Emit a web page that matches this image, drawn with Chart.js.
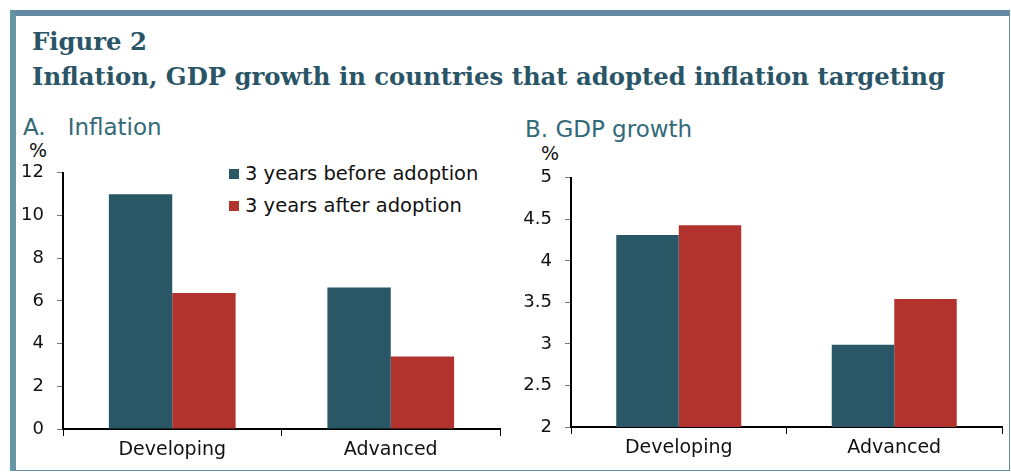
<!DOCTYPE html>
<html>
<head>
<meta charset="utf-8">
<script src="https://cdn.jsdelivr.net/npm/chart.js@4.4.0/dist/chart.umd.min.js"></script>
<style>
  html, body { margin: 0; padding: 0; background: #fff; }
  body { width: 1011px; height: 472px; position: relative; overflow: hidden; font-family: "DejaVu Sans", Verdana, sans-serif; }
  #frame { position: absolute; left: 10px; top: 10px; width: 1000px; height: 461px; box-sizing: border-box;
    border-top: 6px solid #648ba1; border-left: 6px solid #6797a7; border-right: 1px solid #648ba1; border-bottom: 1px solid #648ba1; }
  .title { position: absolute; left: 32px; font-family: "DejaVu Serif", serif; font-weight: bold; color: #2a5566;
    font-size: 25px; line-height: 25px; white-space: nowrap; transform-origin: 0 0; }
  .sub { position: absolute; font-size: 23px; line-height: 23px; color: #336a7a; white-space: nowrap; }
  .unit { position: absolute; font-size: 19px; line-height: 19px; color: #111; }
  canvas { position: absolute; }
  #legend { position: absolute; left: 229px; top: 162px; font-size: 19.5px; color: #111; }
  #legend div { height: 32px; line-height: 24px; white-space: nowrap; }
  #legend span.box { display: inline-block; width: 10px; height: 10px; margin-right: 6px; vertical-align: 1px; }
</style>
</head>
<body>
<div id="frame"></div>
<div class="title" id="t1" style="top:29px">Figure 2</div>
<div class="title" id="t2" style="top:64px">Inflation, GDP growth in countries that adopted inflation targeting</div>
<div class="sub" style="left:23px; top:116px">A.<span style="margin-left:22px">Inflation</span></div>
<div class="sub" style="left:525px; top:118px">B. GDP growth</div>
<div class="unit" style="left:29px; top:141px">%</div>
<div class="unit" style="left:541px; top:144px">%</div>
<div id="legend"></div>
<canvas id="chartA" width="485" height="319" style="left:20px; top:149px"></canvas>
<canvas id="chartB" width="497" height="312" style="left:510px; top:154px"></canvas>

<script>
const categories = ['Developing', 'Advanced'];
const seriesNames = ['3 years before adoption', '3 years after adoption'];
const seriesColors = ['#295766', '#b2332e'];

const inflationBefore = [11.0, 6.63];
const inflationAfter = [6.37, 3.39];
const gdpBefore = [4.31, 2.99];
const gdpAfter = [4.43, 3.54];

const inflationTicks = [0, 2, 4, 6, 8, 10, 12];
const gdpTicks = [2, 2.5, 3, 3.5, 4, 4.5, 5];

// fit the long title to the width it has in the figure
const t2 = document.getElementById('t2');
const k = 913 / t2.getBoundingClientRect().width;
t2.style.transform = 'scaleX(' + k + ')';
document.getElementById('t1').style.transform = 'scaleX(' + k + ')';

// legend
const legend = document.getElementById('legend');
seriesNames.forEach((name, i) => {
  const row = document.createElement('div');
  row.innerHTML = '<span class="box" style="background:' + seriesColors[i] + '"></span>' + name;
  legend.appendChild(row);
});

function makeChart(id, before, after, ticks, axisWidth) {
  return new Chart(document.getElementById(id), {
    type: 'bar',
    data: {
      labels: categories,
      datasets: [
        { label: seriesNames[0], data: before, backgroundColor: seriesColors[0], borderWidth: 0,
          categoryPercentage: 0.58, barPercentage: 1.0 },
        { label: seriesNames[1], data: after, backgroundColor: seriesColors[1], borderWidth: 0,
          categoryPercentage: 0.58, barPercentage: 1.0 }
      ]
    },
    options: {
      responsive: false,
      animation: false,
      devicePixelRatio: 1,
      layout: { padding: { top: 12, right: 5, left: 0, bottom: 0 } },
      plugins: { legend: { display: false }, tooltip: { enabled: false } },
      scales: {
        x: {
          grid: { drawOnChartArea: false, drawTicks: true, tickLength: 7, color: '#000', lineWidth: 1 },
          border: { display: true, color: '#000', width: 2 },
          ticks: { color: '#111', font: { family: 'DejaVu Sans', size: 19 }, padding: 3 },
          afterFit: (s) => { s.height = 39; }
        },
        y: {
          min: ticks[0],
          max: ticks[ticks.length - 1],
          grid: { drawOnChartArea: false, drawTicks: true, tickLength: 6, color: '#777', lineWidth: 1 },
          border: { display: true, color: '#000', width: 2 },
          ticks: { color: '#111', font: { family: 'DejaVu Sans', size: 18 }, padding: 13,
            callback: (v) => String(v) },
          afterBuildTicks: (s) => { s.ticks = ticks.map(v => ({ value: v })); },
          afterFit: (s) => { s.width = axisWidth; }
        }
      }
    }
  });
}

makeChart('chartA', inflationBefore, inflationAfter, inflationTicks, 43);
makeChart('chartB', gdpBefore, gdpAfter, gdpTicks, 61);
</script>
</body>
</html>
